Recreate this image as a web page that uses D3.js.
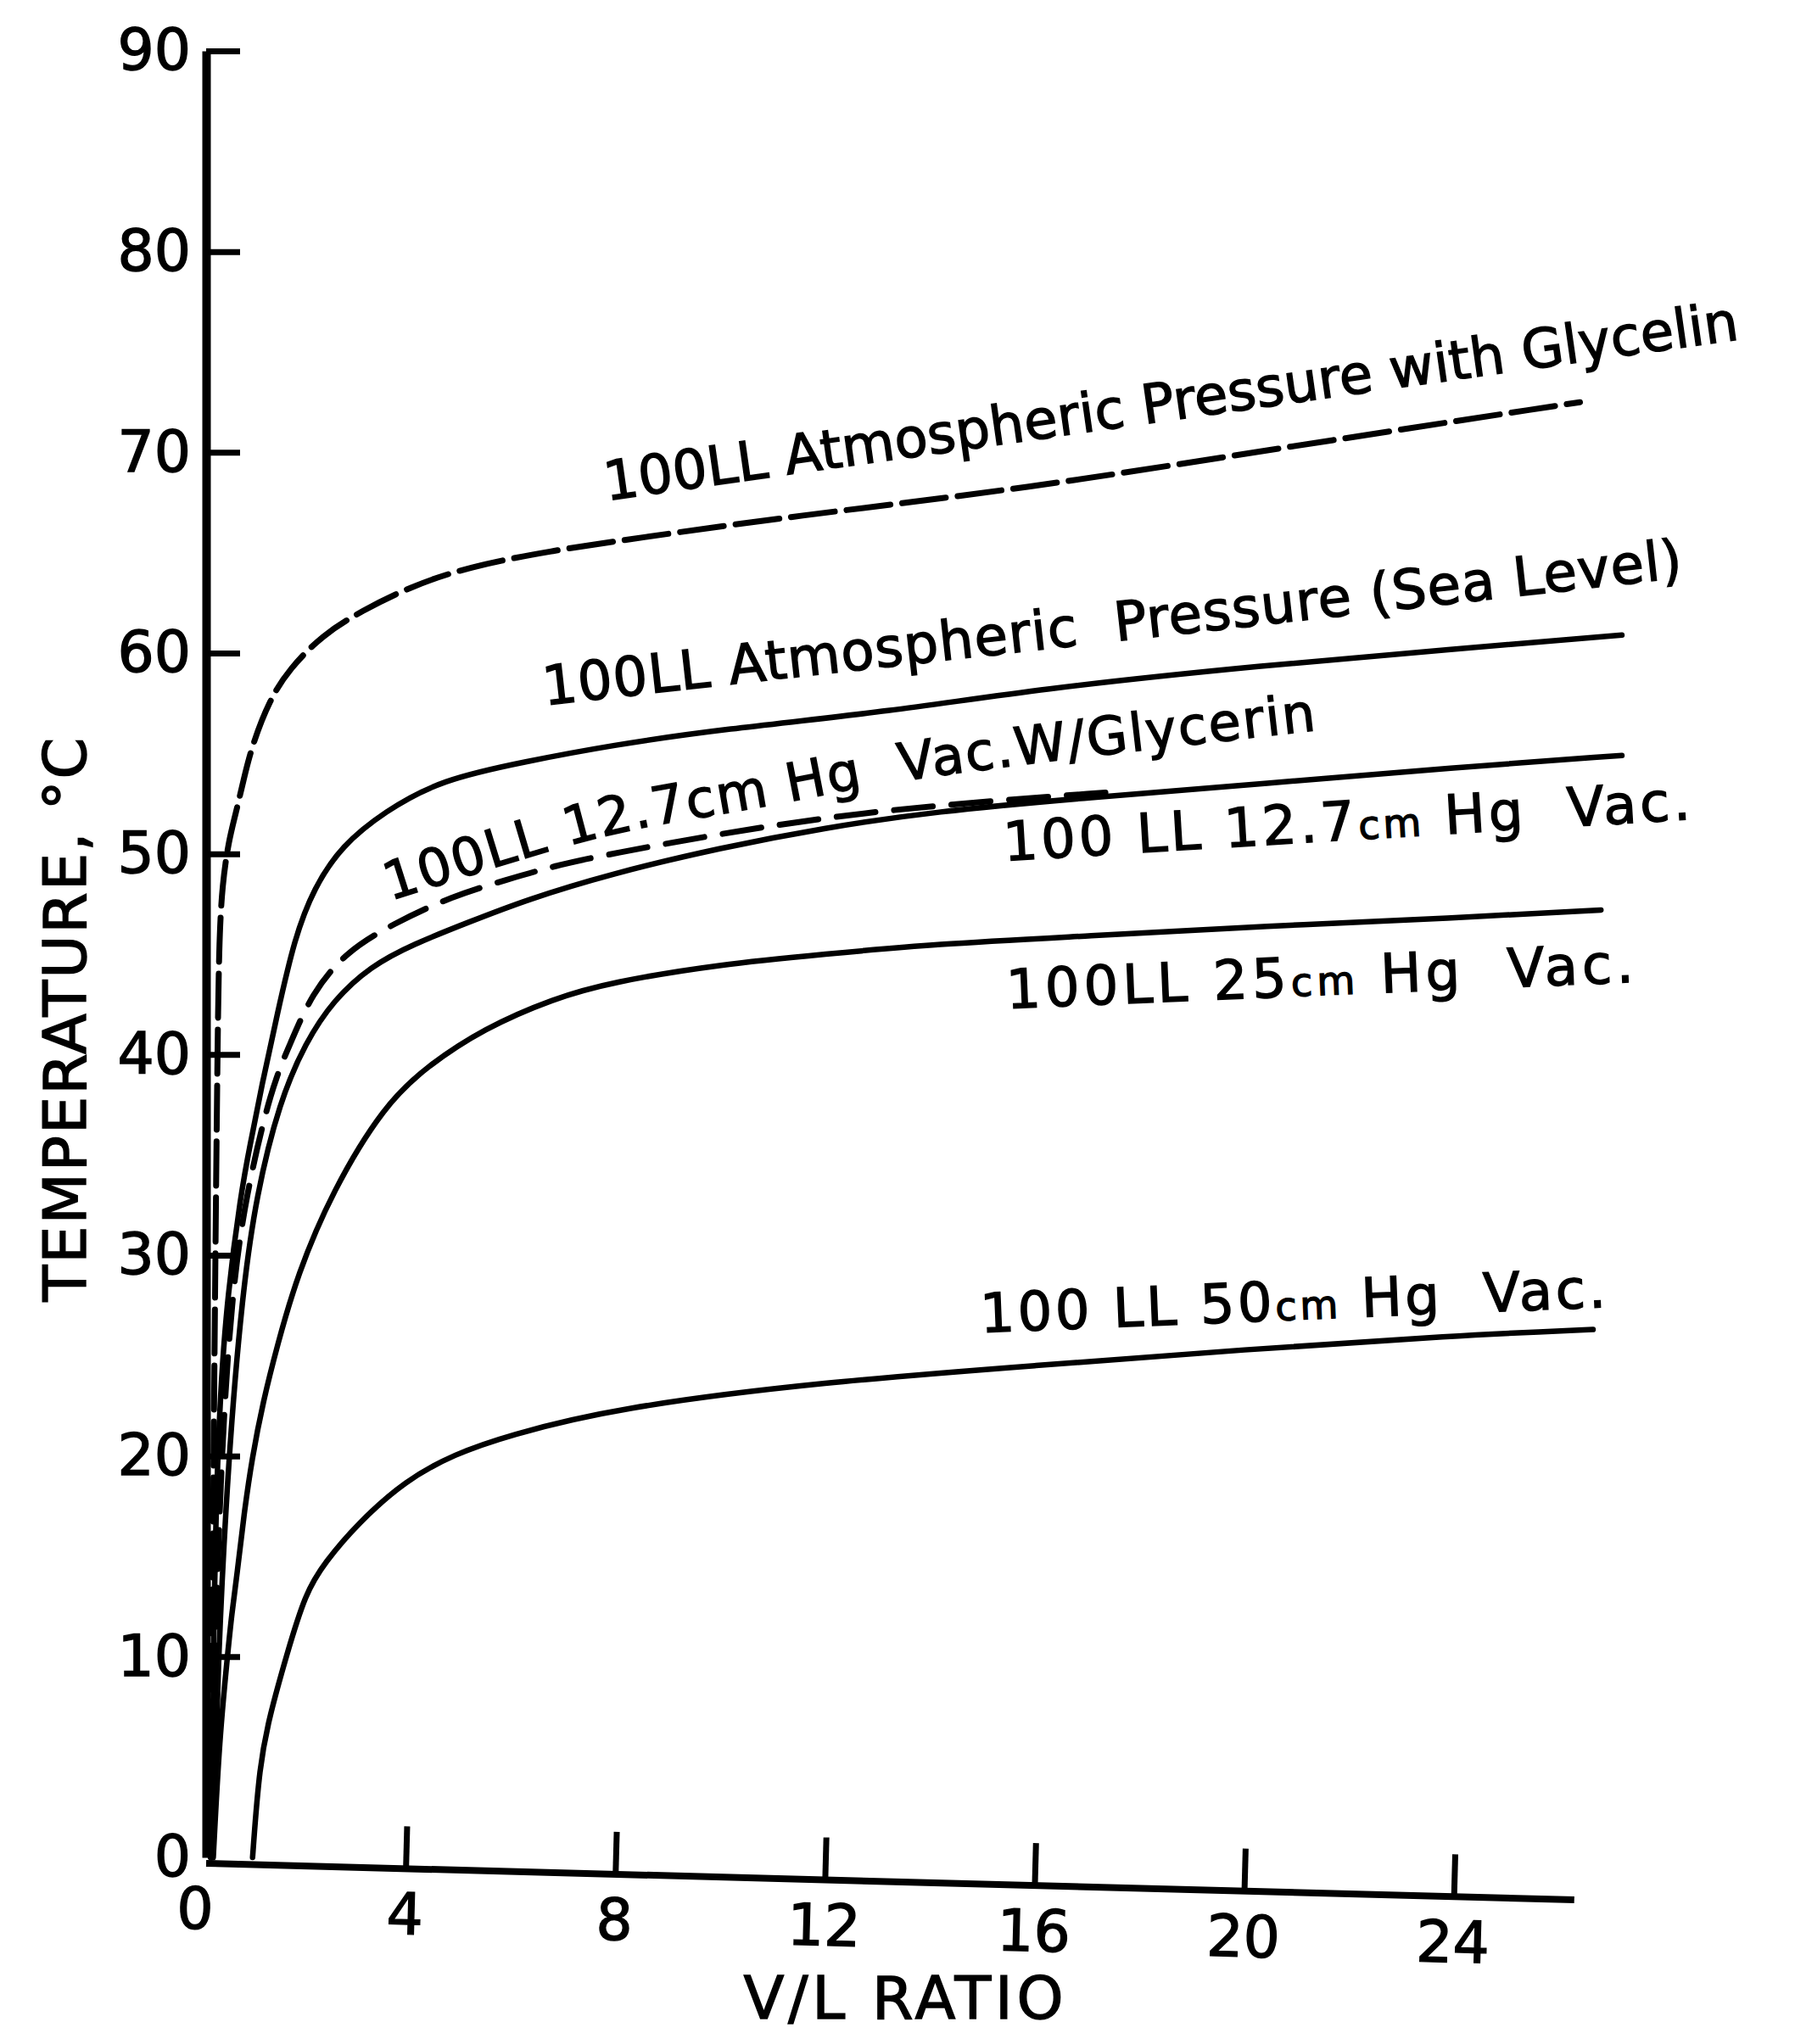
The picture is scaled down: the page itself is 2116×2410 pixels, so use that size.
<!DOCTYPE html>
<html>
<head>
<meta charset="utf-8">
<script src="https://cdn.jsdelivr.net/npm/d3@7"></script>
<style>
  html, body { margin: 0; padding: 0; background: #fff; }
  svg { display: block; }
  text { font-family: "DejaVu Sans", sans-serif; fill: #000; stroke: #000; stroke-width: 1.4px; }
</style>
</head>
<body>
<svg id="chart" width="2116" height="2410"></svg>
<script>
// ---------------- DATA ----------------
const xTickValues = [0, 4, 8, 12, 16, 20, 24];
const yTickValues = [0, 10, 20, 30, 40, 50, 60, 70, 80, 90];
const xTitle = "V/L RATIO";
const yTitle = "TEMPERATURE, °C";

// [V/L ratio, temperature °C]
const atmGlycelin = [[0.28,0],[0.32,15],[0.37,30],[0.41,40],[0.44,45.5],[0.5,48.5],[0.63,50.7],[0.74,51.8],[0.91,53.7],[1.07,55.4],[1.41,57.7],[1.78,59.2],[2.41,60.9],[3.16,62.1],[4.08,63.3],[5.19,64.3],[6.78,65.1],[8.35,65.7],[11.31,66.8],[15.86,68.2],[20.4,70.1],[26.4,72.5]];
const atmSeaLevel = [[0.3,0],[0.33,10],[0.4,20],[0.55,27],[0.86,33.2],[1.05,35.7],[1.25,38.4],[1.55,42.0],[1.88,45.8],[2.25,48.3],[2.78,50.4],[3.59,52.1],[4.68,53.7],[6.29,54.6],[7.91,55.4],[10,56.2],[13.3,57.1],[16,58.2],[20.4,59.4],[24,60.2],[27.2,60.9]];
const vac127Glycerin = [[0.3,0],[0.36,10],[0.48,20],[0.68,28],[0.95,33],[1.44,38.4],[1.81,40.6],[2.2,43.0],[2.85,45.1],[3.75,46.5],[4.89,47.9],[5.92,48.7],[6.83,49.4],[7.91,50.0],[10,51.0],[12,51.8],[14,52.4],[17.6,53.1]];
const vac127 = [[0.32,0],[0.42,10],[0.62,20],[0.88,28],[1.15,33],[1.6,37.7],[2.09,40.6],[2.62,42.7],[3.33,44.4],[4.14,45.5],[5.21,46.6],[6.29,47.7],[7.91,49.0],[10,50.3],[12,51.3],[14.06,52.1],[17,52.8],[20.4,53.5],[24,54.3],[27.2,54.9]];
const vac25 = [[0.33,0],[0.45,6],[0.6,10],[0.68,12.1],[0.79,14.2],[0.91,17.0],[1.07,19.9],[1.28,22.7],[1.55,25.5],[1.93,29.0],[2.6,33.2],[3.6,37.5],[4.4,39.4],[5.49,41.3],[6.83,42.8],[7.91,43.6],[10,44.5],[12,45.0],[14.06,45.5],[17,45.9],[20.4,46.4],[24,46.8],[26.8,47.2]];
const vac50 = [[1.08,0],[1.21,4.6],[1.41,7.1],[1.72,10.0],[2.09,13.2],[2.46,14.7],[3.07,16.6],[4.0,18.8],[4.94,20.1],[5.92,21.0],[8,22.4],[12,23.7],[16,24.5],[20,25.3],[24,26.0],[26.65,26.3]];

const labelGlycelin = ["100LL Atmospheric Pressure with Glycelin"];
const labelSeaLevel = ["100LL Atmospheric  Pressure (Sea Level)"];
const labelVac127Gly = "100LL 12.7cm Hg  Vac.W/Glycerin";
const labelVac127 = ["100 LL 12.7", "cm", " Hg  Vac."];
const labelVac25 = ["100LL 25", "cm", " Hg  Vac."];
const labelVac50 = ["100 LL 50", "cm", " Hg  Vac."];

// ---------------- LAYOUT ----------------
const W = 2116, H = 2410;
const x = d3.scaleLinear().domain([0, 26.3]).range([231, 231 + 26.3 * 61.8]);
const y = d3.scaleLinear().domain([0, 90]).range([2190, 60]);
const axisX = 243;      // hand-drawn vertical axis position
const xTilt = 1.53;     // the scanned x axis runs slightly downhill
const svg = d3.select("#chart");
svg.append("rect").attr("width", W).attr("height", H).attr("fill", "#fff");

// y axis
const gy = svg.append("g").attr("transform", `translate(${axisX},0)`)
  .call(d3.axisLeft(y).tickValues(yTickValues).tickSizeInner(-40).tickSizeOuter(0)
    .tickPadding(18).tickFormat(d3.format("d")));
gy.select(".domain").attr("stroke", "#000").attr("stroke-width", 10);
gy.selectAll(".tick line").attr("stroke", "#000").attr("stroke-width", 7);
gy.selectAll(".tick").filter(d => d === 0).select("line").remove();
gy.selectAll(".tick text").attr("font-size", 68).attr("font-family", "DejaVu Sans").attr("fill", "#000");

// x axis (tilted like the original)
const baseY = y(0) + 7;
const gx = svg.append("g").attr("transform", `translate(0,${baseY}) rotate(${xTilt},${axisX},0)`)
  .call(d3.axisBottom(x).tickValues(xTickValues).tickSizeInner(-50).tickSizeOuter(0)
    .tickPadding(29).tickFormat(d3.format("d")));
gx.select(".domain").remove();
gx.insert("line", ":first-child").attr("x1", axisX).attr("x2", x(26.3)).attr("y1", 0).attr("y2", 0)
  .attr("stroke", "#000").attr("stroke-width", 8);
gx.selectAll(".tick line").attr("stroke", "#000").attr("stroke-width", 7);
gx.selectAll(".tick").filter(d => d === 0).select("line").remove();
gx.selectAll(".tick text").attr("font-size", 68).attr("font-family", "DejaVu Sans").attr("fill", "#000");

// titles
svg.append("text").attr("transform", "translate(76,1202) rotate(-90)")
  .attr("text-anchor", "middle").attr("dy", "0.36em").attr("font-size", 70)
  .attr("textLength", 665).attr("lengthAdjust", "spacing").text(yTitle);
svg.append("text").attr("x", 1065).attr("y", 2380).attr("text-anchor", "middle")
  .attr("font-size", 70).attr("textLength", 377).attr("lengthAdjust", "spacing").text(xTitle);

// curves
const line = d3.line().x(d => x(d[0])).y(d => y(d[1])).curve(d3.curveBasis);
const series = [
  { data: atmGlycelin, dash: "52,14", w: 7 },
  { data: atmSeaLevel, dash: null, w: 6.5 },
  { data: vac127Glycerin, dash: "46,22", w: 7 },
  { data: vac127, dash: null, w: 6.5 },
  { data: vac25, dash: null, w: 6.5 },
  { data: vac50, dash: null, w: 6.5 }
];
series.forEach(s => {
  svg.append("path").attr("d", line(s.data)).attr("fill", "none").attr("stroke", "#000")
    .attr("stroke-width", s.w).attr("stroke-linecap", "round")
    .attr("stroke-dasharray", s.dash);
});

// labels
function addParts(sel, parts, size) {
  parts.forEach(p => {
    const ts = sel.append("tspan").text(p);
    if (p === "cm") ts.attr("font-size", size * 0.72);
  });
}
const labelLayout = [
  { parts: labelGlycelin, at: [7.83, 67.6], angle: -8.1, len: 1350, size: 64 },
  { parts: labelSeaLevel, at: [6.65, 57.4], angle: -6.4, len: 1351, size: 64 },
  { parts: labelVac127, at: [15.42, 49.65], angle: -3.46, len: 811, size: 64 },
  { parts: labelVac25, at: [15.47, 42.3], angle: -2.4, len: 740, size: 64 },
  { parts: labelVac50, at: [14.97, 26.15], angle: -2.33, len: 738, size: 64 }
];
labelLayout.forEach(L => {
  const t = svg.append("text")
    .attr("transform", `translate(${x(L.at[0])},${y(L.at[1])}) rotate(${L.angle})`)
    .attr("font-size", L.size).attr("textLength", L.len).attr("lengthAdjust", "spacing")
    .style("white-space", "pre");
  addParts(t, L.parts, L.size);
});

// curved label following the 12.7 cm Hg glycerin curve
const label3Path = [[3.71,47.66],[6.83,50.2],[8.35,51.2],[10.66,52.27],[13.67,53.7],[21.38,56.15],[24,56.9]];
svg.append("defs").append("path").attr("id", "lbl3")
  .attr("d", d3.line().x(d => x(d[0])).y(d => y(d[1])).curve(d3.curveCatmullRom.alpha(0.5))(label3Path));
svg.append("text").attr("font-size", 62).style("white-space", "pre").attr("letter-spacing", 2)
  .append("textPath").attr("href", "#lbl3").text(labelVac127Gly);
</script>
</body>
</html>
